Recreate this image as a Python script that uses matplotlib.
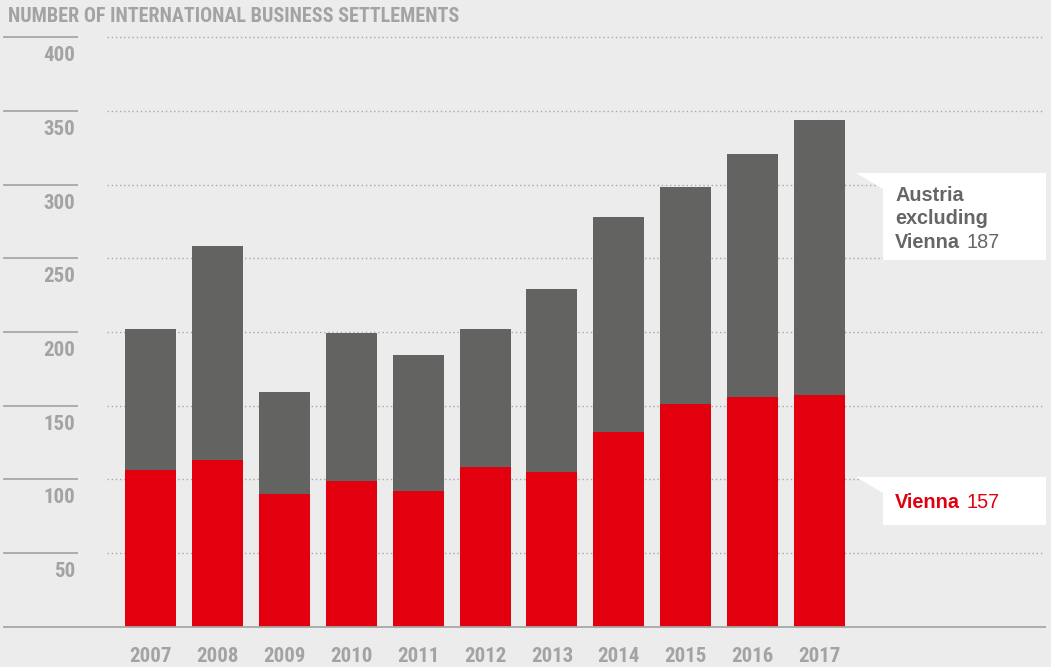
import matplotlib
matplotlib.use("Agg")
import matplotlib.pyplot as plt
from matplotlib.patches import Polygon
from matplotlib.text import Annotation

# Data: international business settlements per year
years = ["2007", "2008", "2009", "2010", "2011", "2012",
         "2013", "2014", "2015", "2016", "2017"]
vienna = [106, 113, 90, 99, 92, 108, 105, 132, 151, 156, 157]
austria_excl_vienna = [96, 145, 69, 100, 92, 94, 124, 146, 147, 165, 187]
y_ticks = [50, 100, 150, 200, 250, 300, 350, 400]

title = "NUMBER OF INTERNATIONAL BUSINESS SETTLEMENTS"

BG = "#ececec"
RED = "#e2000f"
GREY = "#636361"
LABEL = "#a3a3a3"
RULE = "#a8a8a8"

narrow = ["Roboto Condensed", "Open Sans Condensed",
          "Liberation Sans Narrow", "DejaVu Sans"]
wide = ["Liberation Sans", "DejaVu Sans"]
narrow_kw = dict(family=narrow, fontstretch="condensed", fontweight="bold",
                 color=LABEL)

W, H = 1051, 667
fig = plt.figure(figsize=(W / 100, H / 100), dpi=100, facecolor=BG)
ax = fig.add_axes([0, 0, 1, 1])
ax.set_facecolor(BG)
ax.axis("off")

# pixel layout -> data limits
step_px = 66.9
first_px = 150.5
zero_px = 626.5          # from top
unit_px = 1.4733
ax.set_xlim(-first_px / step_px, (W - first_px) / step_px)
ax.set_ylim(-(H - zero_px) / unit_px, zero_px / unit_px)

ytr = ax.get_yaxis_transform()  # x in axes fraction, y in data

# dotted gridlines and short solid rules with labels
for v in y_ticks:
    ax.plot([107 / W, 1043 / W], [v, v], transform=ytr, color=RULE,
            lw=1.0, linestyle=(0, (1, 2)), zorder=1)
    ax.plot([3 / W, 78 / W], [v, v], transform=ytr, color=RULE,
            lw=1.3, solid_capstyle="butt", zorder=1)
    ax.text(75 / W, v - 24 / unit_px, str(v), transform=ytr,
            ha="right", va="baseline", fontsize=15, **narrow_kw)

# baseline
ax.plot([3 / W, 1046 / W], [0, 0], transform=ytr, color=RULE, lw=1.3,
        solid_capstyle="butt", zorder=4)

# stacked bars
x = list(range(len(years)))
bw = 51 / step_px
ax.bar(x, vienna, width=bw, color=RED, zorder=3, linewidth=0)
ax.bar(x, austria_excl_vienna, bottom=vienna, width=bw, color=GREY,
       zorder=3, linewidth=0)

for xi, yr in zip(x, years):
    ax.text(xi, -35.5 / unit_px, yr, ha="center", va="baseline",
            fontsize=15, **narrow_kw)

# title
fig.text(8 / W, 1 - 22 / H, title, ha="left", va="baseline", fontsize=14.5,
         **narrow_kw)


def px(xp, yp):
    return (xp / W, 1 - yp / H)


def callout(top, bottom):
    pts = [px(856, top), px(1046, top), px(1046, bottom), px(883, bottom),
           px(883, top + 16)]
    fig.patches.append(Polygon(pts, closed=True, transform=fig.transFigure,
                               facecolor="white", edgecolor="none",
                               zorder=5))


def name_with_value(xp, yp, name, value, color):
    t = fig.text(xp / W, 1 - yp / H, name, ha="left", va="baseline",
                 fontsize=14.3, fontweight="bold", color=color, family=wide,
                 zorder=6)
    a = Annotation(str(value), xy=(1, 0), xycoords=t, xytext=(4.5, 0),
                   textcoords="offset points", ha="left", va="bottom",
                   fontsize=14.3, color=color, family=wide, zorder=6,
                   annotation_clip=False)
    fig.add_artist(a)


callout(173, 260)
callout(477, 525)

# series labels
fig.text(895 / W, 1 - 200.7 / H, "Austria", ha="left", va="baseline",
         fontsize=14.3, fontweight="bold", color="#666666", family=wide,
         zorder=6)
fig.text(895 / W, 1 - 224.3 / H, "excluding", ha="left", va="baseline",
         fontsize=14.3, fontweight="bold", color="#666666", family=wide,
         zorder=6)
name_with_value(895, 248, "Vienna", austria_excl_vienna[-1], "#666666")
name_with_value(895, 508, "Vienna", vienna[-1], RED)

fig.savefig("out.png", dpi=100, facecolor=BG)
